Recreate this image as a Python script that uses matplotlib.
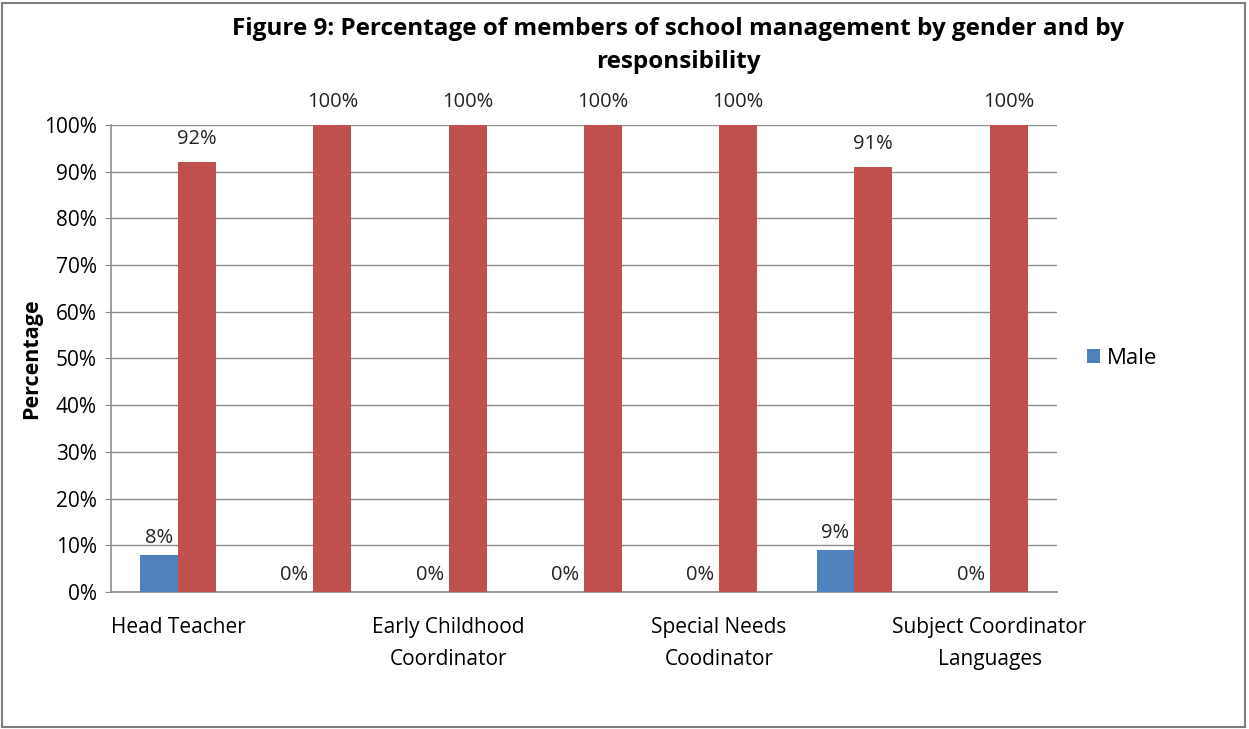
import numpy as np
import matplotlib
matplotlib.use("Agg")
import matplotlib.pyplot as plt
from matplotlib.patches import Rectangle

# Data (unlabelled categories are left blank, as on the picture)
categories = ["Head Teacher", "", "Early Childhood\nCoordinator", "",
              "Special Needs\nCoodinator", "", "Subject Coordinator\nLanguages"]
male = [8, 0, 0, 0, 0, 9, 0]
female = [92, 100, 100, 100, 100, 91, 100]
yticks = [0, 10, 20, 30, 40, 50, 60, 70, 80, 90, 100]

blue = "#4F81BD"
red = "#C0504D"
grid = "#8C8C8C"

plt.rcParams['font.family'] = ['Open Sans', 'DejaVu Sans']

fig = plt.figure(figsize=(12.49, 7.29), dpi=100)
ax = fig.add_axes([0.0885, 0.188, 0.758, 0.6405])

x = np.arange(len(categories))
w = 0.28
bm = ax.bar(x - w / 2, male, w, color=blue, zorder=3, label="Male")
bf = ax.bar(x + w / 2, female, w, color=red, zorder=3, label="Female")

for xi, v in zip(x, male):
    ax.text(xi - w / 2, v + 1.5, f"{v}%", ha="center", va="bottom", fontsize=14.5, color="#222222")
for xi, v in zip(x, female):
    ax.text(xi + w / 2, v + 2.8, f"{v}%", ha="center", va="bottom", fontsize=14.5,
            color="#222222", clip_on=False)

ax.set_xlim(-0.5, len(categories) - 0.5)
ax.set_ylim(0, 100)
ax.set_yticks(yticks)
ax.set_yticklabels([f"{t}%" for t in yticks], fontsize=15)
ax.set_xticks(x)
ax.set_xticklabels(categories, fontsize=15, linespacing=1.7)
ax.tick_params(axis="x", length=0, pad=18)
ax.tick_params(axis="y", length=4, color=grid, pad=6)
ax.grid(axis="y", color=grid, linewidth=1, zorder=0)
for s in ["top", "right"]:
    ax.spines[s].set_visible(False)
for s in ["left", "bottom"]:
    ax.spines[s].set_color(grid)
    ax.spines[s].set_linewidth(1.2)

ax.set_ylabel("Percentage", fontsize=15.5, fontweight="bold", labelpad=1)

fig.text(0.543, 0.960, "Figure 9: Percentage of members of school management by gender and by",
         ha="center", va="center", fontsize=17.5, fontweight="bold")
fig.text(0.543, 0.915, "responsibility", ha="center", va="center", fontsize=17.5, fontweight="bold")

ax.legend(handles=[bm], loc="center left", bbox_to_anchor=(1.01, 0.5), frameon=False,
          fontsize=16, handlelength=0.6, handleheight=0.6, handletextpad=0.3)

fig.patches.append(Rectangle((0.002, 0.003), 0.995, 0.993, transform=fig.transFigure,
                             fill=False, edgecolor="#7F7F7F", linewidth=1.5))

fig.savefig("out.png", dpi=100)
